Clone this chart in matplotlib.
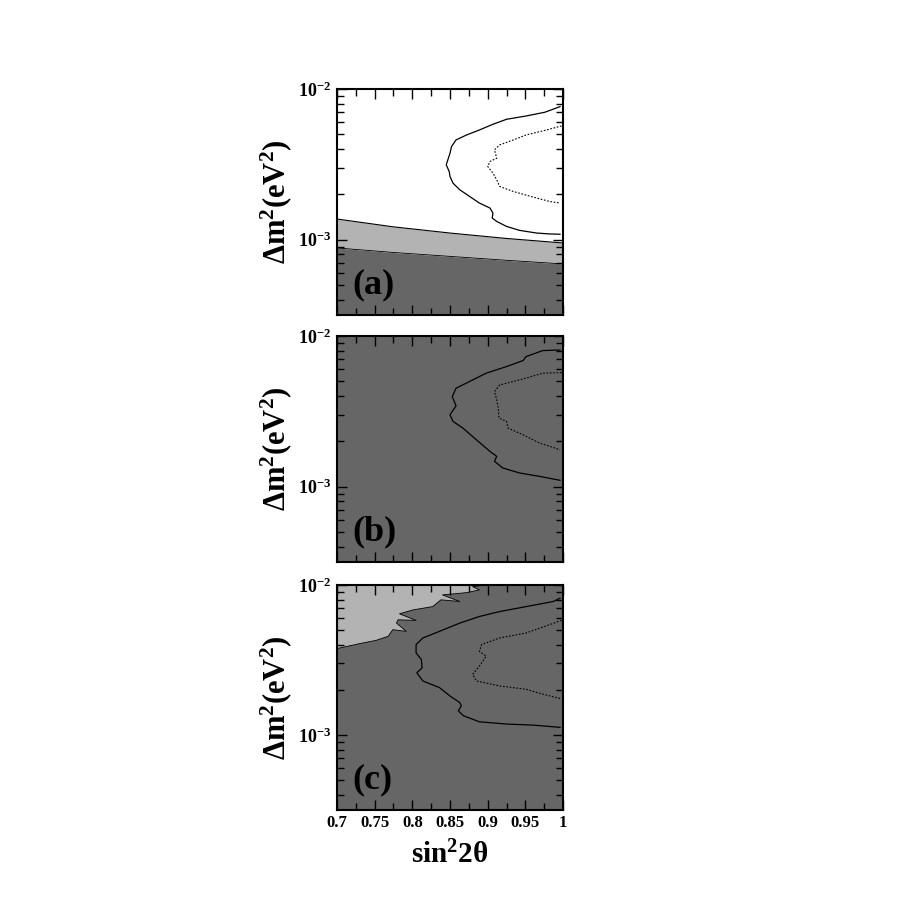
import numpy as np
import matplotlib
matplotlib.use("Agg")
import matplotlib.pyplot as plt
from matplotlib.ticker import FixedLocator, MultipleLocator, NullFormatter, LogLocator

plt.rcParams['font.family'] = ['Liberation Serif', 'DejaVu Serif']
plt.rcParams['font.weight'] = 'bold'
plt.rcParams['mathtext.fontset'] = 'custom'
plt.rcParams['mathtext.rm'] = 'Liberation Serif:bold'
plt.rcParams['mathtext.bf'] = 'Liberation Serif:bold'
plt.rcParams['mathtext.it'] = 'Liberation Serif:bold'

DARK = '#666666'
LIGHT = '#b3b3b3'

# ---- data (x = sin^2 2theta, y = log10 of dm^2 in eV^2) ----
a_band_x = [0.70, 0.775, 0.85, 0.925, 1.00]
a_band_upper = [-2.863, -2.915, -2.956, -2.992, -3.022]
a_band_lower = [-3.055, -3.085, -3.111, -3.137, -3.161]

a_solid_x = [0.996, 0.976, 0.951, 0.925, 0.907, 0.889, 0.872, 0.858, 0.852, 0.850, 0.845,
             0.849, 0.850, 0.854, 0.863, 0.876, 0.889, 0.903, 0.907, 0.906, 0.912, 0.925,
             0.942, 0.965, 0.982, 0.996]
a_solid_y = [-2.117, -2.154, -2.179, -2.201, -2.234, -2.272, -2.305, -2.338, -2.382, -2.426,
             -2.503, -2.548, -2.581, -2.625, -2.669, -2.713, -2.757, -2.790, -2.823, -2.856,
             -2.879, -2.912, -2.938, -2.956, -2.962, -2.964]
a_dot_x = [0.998, 0.978, 0.951, 0.934, 0.916, 0.909, 0.912, 0.903, 0.900, 0.907, 0.912,
           0.916, 0.934, 0.960, 0.982, 0.996]
a_dot_y = [-2.245, -2.272, -2.305, -2.338, -2.371, -2.404, -2.459, -2.481, -2.514, -2.558,
           -2.603, -2.647, -2.680, -2.717, -2.746, -2.757]

b_solid_x = [0.996, 0.973, 0.951, 0.947, 0.925, 0.898, 0.876, 0.858, 0.853, 0.858, 0.850,
             0.854, 0.867, 0.885, 0.903, 0.912, 0.909, 0.920, 0.942, 0.969, 0.996]
b_solid_y = [-2.093, -2.097, -2.137, -2.163, -2.203, -2.247, -2.302, -2.347, -2.402, -2.464,
             -2.523, -2.567, -2.611, -2.689, -2.766, -2.799, -2.832, -2.876, -2.909, -2.932,
             -2.958]
b_dot_x = [0.998, 0.973, 0.951, 0.934, 0.916, 0.909, 0.912, 0.914, 0.915, 0.925, 0.927,
           0.947, 0.969, 0.996]
b_dot_y = [-2.243, -2.247, -2.280, -2.302, -2.325, -2.369, -2.424, -2.479, -2.545, -2.567,
           -2.611, -2.656, -2.711, -2.755]

c_excl_x = [0.700, 0.730, 0.752, 0.768, 0.774, 0.792, 0.779, 0.781, 0.805, 0.783, 0.801,
            0.827, 0.838, 0.863, 0.840, 0.872, 0.889, 0.880, 0.898]
c_excl_y = [-2.424, -2.391, -2.369, -2.342, -2.298, -2.309, -2.254, -2.232, -2.236, -2.192,
            -2.166, -2.144, -2.099, -2.110, -2.066, -2.051, -2.033, -2.011, -2.000]

c_solid_x = [0.996, 0.987, 0.951, 0.916, 0.889, 0.863, 0.836, 0.814, 0.805, 0.805, 0.812,
             0.813, 0.806, 0.814, 0.836, 0.850, 0.863, 0.865, 0.861, 0.868, 0.889, 0.925,
             0.960, 0.996]
c_solid_y = [-2.088, -2.110, -2.144, -2.177, -2.210, -2.254, -2.309, -2.353, -2.397, -2.453,
             -2.497, -2.552, -2.585, -2.640, -2.684, -2.740, -2.784, -2.806, -2.839, -2.872,
             -2.912, -2.927, -2.934, -2.949]
c_dot_x = [0.998, 0.978, 0.951, 0.916, 0.892, 0.889, 0.898, 0.889, 0.880, 0.885, 0.916,
           0.951, 0.969, 0.996]
c_dot_y = [-2.236, -2.272, -2.320, -2.353, -2.397, -2.442, -2.475, -2.541, -2.596, -2.640,
           -2.673, -2.695, -2.722, -2.757]

panel_labels = ['(a)', '(b)', '(c)']
x_ticks = [0.7, 0.75, 0.8, 0.85, 0.9, 0.95, 1.0]
x_tick_labels = ['0.7', '0.75', '0.8', '0.85', '0.9', '0.95', '1']
y_ticks = [1e-3, 1e-2]
y_tick_labels = [r'$10^{-3}$', r'$10^{-2}$']
XMIN, XMAX = 0.7, 1.0
YMIN, YMAX = 10 ** -3.5, 1e-2


def p(v):
    return 10 ** np.asarray(v, dtype=float)


fig = plt.figure(figsize=(9, 9), dpi=100)
rects = [[0.3744, 0.65, 0.2512, 0.2511],
         [0.3744, 0.3756, 0.2512, 0.2511],
         [0.3744, 0.10, 0.2512, 0.2500]]
axes = [fig.add_axes(r) for r in rects]

for i, ax in enumerate(axes):
    ax.set_yscale('log')
    ax.set_xlim(XMIN, XMAX)
    ax.set_ylim(YMIN, YMAX)

# (a)
ax = axes[0]
bx = np.array(a_band_x)
ax.fill_between(bx, YMIN, p(a_band_lower), color=DARK, lw=0)
ax.fill_between(bx, p(a_band_lower), p(a_band_upper), color=LIGHT, lw=0)
ax.plot(bx, p(a_band_upper), color='black', lw=0.8)
ax.plot(bx, p(a_band_lower), color='black', lw=0.6)
ax.plot(a_solid_x, p(a_solid_y), color='black', lw=0.9)
ax.plot(a_dot_x, p(a_dot_y), color='black', lw=0.8, ls=(0, (1.5, 1.5)))

# (b)
ax = axes[1]
ax.set_facecolor(DARK)
ax.plot(b_solid_x, p(b_solid_y), color='black', lw=0.9)
ax.plot(b_dot_x, p(b_dot_y), color='black', lw=0.8, ls=(0, (1.5, 1.5)))

# (c)
ax = axes[2]
ax.set_facecolor(DARK)
poly_x = list(c_excl_x) + [XMIN]
poly_y = list(p(c_excl_y)) + [YMAX]
ax.fill(poly_x, poly_y, color=LIGHT, lw=0)
ax.plot(c_excl_x, p(c_excl_y), color='black', lw=0.6)
ax.plot(c_solid_x, p(c_solid_y), color='black', lw=0.9)
ax.plot(c_dot_x, p(c_dot_y), color='black', lw=0.8, ls=(0, (1.5, 1.5)))

for i, ax in enumerate(axes):
    ax.xaxis.set_major_locator(FixedLocator(x_ticks))
    ax.xaxis.set_minor_locator(MultipleLocator(0.025))
    ax.yaxis.set_major_locator(FixedLocator(y_ticks))
    ax.yaxis.set_minor_locator(LogLocator(base=10, subs=np.arange(2, 10)))
    ax.yaxis.set_minor_formatter(NullFormatter())
    ax.set_yticklabels(y_tick_labels, fontsize=13)
    ax.tick_params(which='both', direction='in', top=True, right=True, width=1.0)
    ax.tick_params(which='major', length=7)
    ax.tick_params(which='minor', length=5)
    ax.tick_params(axis='y', pad=4)
    for s in ax.spines.values():
        s.set_linewidth(1.5)
    if i < 2:
        ax.set_xticklabels([])
    else:
        ax.set_xticklabels(x_tick_labels, fontsize=12, fontweight='bold')
        ax.set_xlabel(r'$\mathbf{sin^2 2\theta}$', fontsize=21)
        ax.xaxis.set_label_coords(0.5, -0.135)
    ax.set_ylabel(r'$\mathbf{\Delta m^2(eV^2)}$', fontsize=22)
    ax.yaxis.set_label_coords(-0.19, 0.5)
    ax.text(0.07, 0.06, panel_labels[i], transform=ax.transAxes, fontsize=26,
            fontweight='bold', ha='left', va='bottom')

fig.savefig('out.png', dpi=100)
